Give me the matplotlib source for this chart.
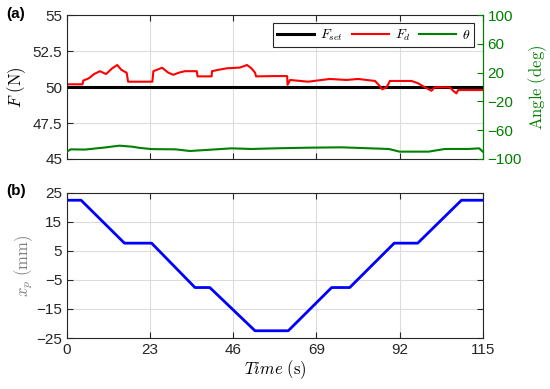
import matplotlib
matplotlib.use("Agg")
import matplotlib.pyplot as plt

plt.rcParams['font.family'] = ['Liberation Sans', 'DejaVu Sans']
plt.rcParams['mathtext.fontset'] = 'cm'

# panel (a): force and angle
t_fd = [0, 4.3, 4.5, 6, 7.5, 9.1, 10.8, 12.5, 13.9, 15, 16.5, 16.9, 23.6, 23.9,
        26.3, 28, 29.4, 31, 32.6, 35.9, 36.1, 40, 40.1, 42, 44.2, 47.8, 49.8,
        51, 52, 52.3, 57.5, 60.9, 61.0, 61.7, 66.7, 72.7, 77.3, 80.5, 85.2,
        86.5, 87.2, 88.4, 89.3, 95.3, 97.1, 99, 100.8, 101.7, 105.9, 106.8,
        107.7, 108.2, 115]
f_d = [50.19, 50.19, 50.45, 50.6, 50.9, 51.1, 50.9, 51.3, 51.53, 51.2, 50.99,
       50.37, 50.37, 51.1, 51.34, 51.0, 50.85, 51.0, 51.1, 51.1, 50.74, 50.74,
       51.1, 51.2, 51.3, 51.35, 51.53, 51.3, 51.0, 50.74, 50.76, 50.76, 50.15,
       50.49, 50.37, 50.56, 50.49, 50.56, 50.42, 50.07, 49.84, 49.98, 50.42,
       50.42, 50.26, 49.98, 49.74, 49.98, 49.98, 49.74, 49.56, 49.79, 49.79]
t_set = [0, 115]
f_set = [50, 50]
t_theta = [0, 1, 5, 10.5, 14.5, 18, 20, 23.5, 30, 34, 40, 45.5, 51, 57.5,
           66.7, 76, 89, 92, 100, 104.5, 111, 114, 115]
theta = [-89.8, -86.6, -86.9, -84, -81.5, -82.9, -84.5, -86.3, -86.6, -88.9,
         -87, -85.2, -86.1, -85.2, -84.3, -83.8, -86.1, -89.8, -89.8, -86.1,
         -86.1, -85.2, -89.8]

# panel (b): position
t_xp = [0, 3.9, 15.9, 23.4, 35.4, 39.5, 52, 61.2, 73.2, 78.2, 90.5, 97, 109.1, 115]
x_p = [22.5, 22.5, 7.7, 7.7, -7.6, -7.6, -22.5, -22.5, -7.6, -7.6, 7.7, 7.7, 22.5, 22.5]

x_ticks = [0, 23, 46, 69, 92, 115]
f_ticks = [45, 47.5, 50, 52.5, 55]
f_labels = ['45', '47.5', '50', '52.5', '55']
ang_ticks = [-100, -60, -20, 20, 60, 100]
xp_ticks = [-25, -15, -5, 5, 15, 25]

green = '#008000'
spine_c = '#262626'
tick_fs = 11

fig = plt.figure(figsize=(5.5, 3.89), dpi=100)
ax1 = fig.add_axes([0.1218, 0.5913, 0.756, 0.370])
ax3 = fig.add_axes([0.1218, 0.1311, 0.756, 0.3728])


def style(ax):
    ax.grid(True, color='#dcdcdc', linewidth=0.8)
    ax.set_axisbelow(True)
    ax.tick_params(direction='in', length=4, labelsize=tick_fs, colors=spine_c,
                   top=True, width=0.8)
    for s in ax.spines.values():
        s.set_color(spine_c)
        s.set_linewidth(0.8)


style(ax1)
l1, = ax1.plot(t_set, f_set, color='black', lw=2.2, label=r'$F_{set}$')
l2, = ax1.plot(t_fd, f_d, color='#ff0000', lw=1.5, label=r'$F_d$')
ax1.set_xlim(0, 115)
ax1.set_ylim(45, 55)
ax1.set_xticks(x_ticks)
ax1.set_xticklabels([])
ax1.set_yticks(f_ticks)
ax1.set_yticklabels(f_labels)
ax1.set_ylabel(r'$F\ \mathrm{(N)}$', fontsize=12, labelpad=3)

ax2 = ax1.twinx()
l3, = ax2.plot(t_theta, theta, color=green, lw=1.5, label=r'$\theta$')
ax2.set_ylim(-100, 100)
ax2.set_yticks(ang_ticks)
ax2.tick_params(direction='in', length=4, labelsize=tick_fs, colors=green, width=0.8)
ax2.spines['right'].set_color(green)
for s in ['left', 'top', 'bottom']:
    ax2.spines[s].set_visible(False)
ax2.set_ylabel(r'$\mathrm{Angle\ (deg)}$', fontsize=12, color=green, labelpad=3)

leg = ax2.legend(handles=[l1, l2, l3], loc='upper right', ncol=3, fontsize=10,
                 fancybox=False, edgecolor=spine_c, framealpha=1,
                 handlelength=2.7, columnspacing=0.6, handletextpad=0.4,
                 borderpad=0.3, borderaxespad=0.6)
leg.get_frame().set_linewidth(0.8)

style(ax3)
ax3.plot(t_xp, x_p, color='#0000ff', lw=2)
ax3.set_xlim(0, 115)
ax3.set_ylim(-25, 25)
ax3.set_xticks(x_ticks)
ax3.set_yticks(xp_ticks)
ax3.tick_params(right=True)
ax3.set_ylabel(r'$x_p\ \mathrm{(mm)}$', fontsize=12, color='#808080', labelpad=1)
ax3.set_xlabel(r'$Time\ \mathrm{(s)}$', fontsize=12, labelpad=1)

fig.text(0.012, 0.965, '(a)', fontsize=11, fontweight='bold', va='center')
fig.text(0.012, 0.51, '(b)', fontsize=11, fontweight='bold', va='center')

fig.savefig('out.png', dpi=100)
